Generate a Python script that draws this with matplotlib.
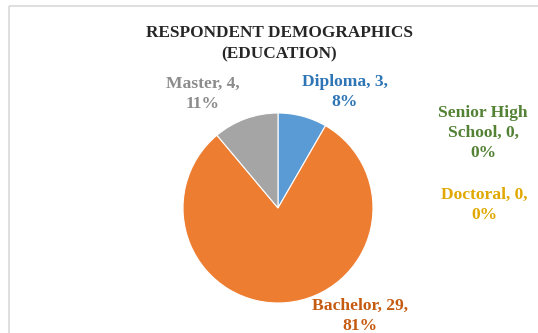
import matplotlib.pyplot as plt
from matplotlib.patches import Rectangle

# data
categories = ["Diploma", "Bachelor", "Master", "Doctoral", "Senior High\nSchool"]
counts = [3, 29, 4, 0, 0]
slice_colors = ["#5B9BD5", "#ED7D31", "#A5A5A5", "#FFC000", "#70AD47"]
label_colors = ["#2E75B6", "#C55A11", "#8C8C8C", "#E0A800", "#548235"]

# label positions in pixels (x, y of text centre)
label_pos = [(345, 92), (360, 316), (203, 94), (484, 205), (483, 133)]

plt.rcParams['font.family'] = ['Liberation Serif', 'DejaVu Serif']

fig = plt.figure(figsize=(5.38, 3.33), dpi=100)
ax = fig.add_axes([0, 0, 1, 1])
ax.set_xlim(0, 538)
ax.set_ylim(333, 0)
ax.set_aspect('equal')
ax.axis('off')

# chart border
ax.add_patch(Rectangle((9, 6), 540, 340, fill=False, edgecolor="#D9D9D9", lw=1.2))

total = sum(counts)
nonzero = [(c, col) for c, col in zip(counts, slice_colors) if c > 0]
# y axis is inverted, so counterclockwise in data = clockwise on screen
ax.pie([c for c, _ in nonzero], colors=[col for _, col in nonzero],
       startangle=-90, counterclock=True, center=(278, 208), radius=95,
       wedgeprops=dict(edgecolor="white", linewidth=0.8))
ax.set_xlim(0, 538)
ax.set_ylim(333, 0)

ax.text(279, 44, "RESPONDENT DEMOGRAPHICS\n(EDUCATION)", ha="center", va="center",
        fontsize=12.4, fontweight="bold", color="#262626", linespacing=1.45)

for name, c, lc, (x, y) in zip(categories, counts, label_colors, label_pos):
    pct = round(100 * c / total)
    if name.startswith("Senior"):
        txt = "Senior High\nSchool, %d,\n%d%%" % (c, pct)
    else:
        txt = "%s, %d,\n%d%%" % (name, c, pct)
    ax.text(x, y, txt, ha="center", va="center", fontsize=12.6, fontweight="bold",
            color=lc, linespacing=1.35)

fig.savefig("out.png", dpi=100)
